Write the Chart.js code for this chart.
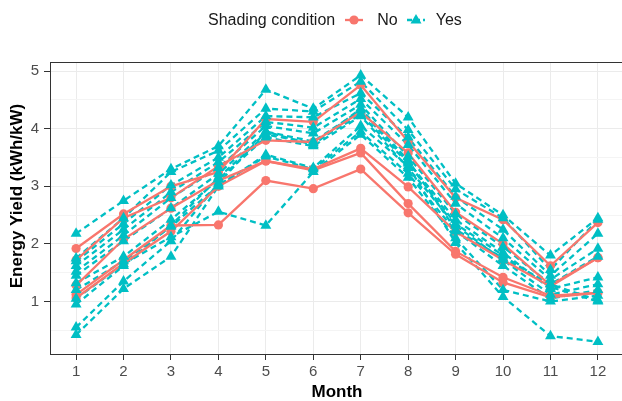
<!DOCTYPE html>
<html><head><meta charset="utf-8">
<script src="https://cdn.jsdelivr.net/npm/chart.js@4/dist/chart.umd.min.js"></script>
<style>
html,body{margin:0;padding:0;background:#fff;overflow:hidden;width:622px;height:401px;}
#wrap{position:relative;width:632px;height:401px;}
#legend{position:absolute;top:10px;left:208px;height:20px;display:flex;align-items:center;font-family:"Liberation Sans",Arial,sans-serif;font-size:16px;color:#1a1a1a;white-space:nowrap;}
#legend svg{display:block;}
</style></head>
<body><div id="wrap"><canvas id="c" width="632" height="401"></canvas><div id="legend"></div></div>
<script>
// ---- data ----
const months = [1,2,3,4,5,6,7,8,9,10,11,12];
const xTickLabels = ['1','2','3','4','5','6','7','8','9','10','11','12'];
const yTickLabels = ['1','2','3','4','5'];
const legendTitle = 'Shading condition';
const groupNames = ['No','Yes'];
const xTitle = 'Month';
const yTitle = 'Energy Yield (kWh/kW)';

// Shading condition: No
const noA = [1.92, 2.52, 3.00, 3.25, 4.17, 4.12, 4.76, 3.78, 2.80, 2.42, 1.62, 2.37];
const noB = [1.72, 2.45, 2.80, 3.35, 3.80, 3.77, 4.29, 3.58, 2.55, 2.00, 1.28, 1.76];
const noC = [1.28, 2.08, 2.62, 3.10, 3.44, 3.30, 3.66, 2.99, 2.21, 1.72, 1.26, 1.76];
const noD = [1.12, 1.72, 2.32, 2.33, 3.10, 2.96, 3.30, 2.54, 1.82, 1.33, 1.07, 1.15];
const noE = [1.06, 1.66, 2.22, 3.00, 3.44, 3.28, 3.58, 2.70, 1.87, 1.42, 1.10, 1.15];

// Shading condition: Yes
const yesA = [2.18, 2.75, 3.30, 3.70, 4.68, 4.35, 4.93, 4.20, 3.05, 2.50, 1.80, 2.45];
const yesB = [1.75, 2.45, 3.25, 3.62, 4.35, 4.30, 4.82, 3.98, 2.95, 2.45, 1.55, 2.42];
const yesC = [1.70, 2.35, 3.02, 3.50, 4.22, 4.20, 4.62, 3.85, 2.82, 2.25, 1.45, 2.18];
const yesD = [1.62, 2.25, 2.90, 3.42, 4.12, 4.02, 4.52, 3.72, 2.70, 2.10, 1.38, 1.92];
const yesE = [1.52, 2.15, 2.80, 3.32, 4.05, 3.92, 4.42, 3.52, 2.52, 1.95, 1.30, 1.78];
const yesF = [1.45, 2.05, 2.62, 3.22, 3.95, 3.78, 4.32, 3.42, 2.42, 1.85, 1.22, 1.42];
const yesG = [1.32, 1.78, 2.42, 3.12, 3.85, 3.70, 4.22, 3.32, 2.32, 1.72, 1.12, 1.30];
const yesH = [1.20, 1.70, 2.30, 3.02, 3.52, 3.30, 3.95, 3.22, 2.22, 1.62, 1.05, 1.20];
const yesI = [1.05, 1.65, 2.12, 2.56, 2.32, 3.25, 3.90, 3.15, 2.10, 1.20, 1.00, 1.10];
const yesJ = [0.95, 1.62, 2.32, 3.15, 3.90, 3.75, 4.25, 3.40, 2.35, 1.80, 1.25, 1.00];
const yesK = [0.55, 1.35, 2.05, 3.05, 3.95, 3.72, 4.35, 3.45, 2.25, 1.75, 1.30, 1.02];
const yesL = [0.42, 1.22, 1.78, 3.00, 3.55, 3.32, 4.05, 3.35, 2.02, 1.08, 0.40, 0.30];

const noSeries = [noA, noB, noC, noD, noE];
const yesSeries = [yesA, yesB, yesC, yesD, yesE, yesF, yesG, yesH, yesI, yesJ, yesK, yesL];

// ---- styling ----
const RED = '#F8766D', TEAL = '#00BFC4';
const FONT = "'Liberation Sans', Arial, Helvetica, sans-serif";
const toPts = s => s.map((v,i) => ({x: months[i], y: v}));

const datasets = [];
yesSeries.forEach(s => datasets.push({data: toPts(s), borderColor: TEAL, borderWidth: 2.3, borderDash: [6,4],
  pointRadius: 0, fill: false, tension: 0, order: 3}));
noSeries.forEach(s => datasets.push({data: toPts(s), borderColor: RED, borderWidth: 2.3,
  pointRadius: 0, fill: false, tension: 0, order: 2}));
noSeries.forEach(s => datasets.push({data: toPts(s), showLine: false, pointStyle: 'circle', pointRadius: 4.6,
  pointBackgroundColor: RED, pointBorderWidth: 0, pointBorderColor: RED, order: 1}));
yesSeries.forEach(s => datasets.push({data: toPts(s), showLine: false, pointStyle: 'triangle', pointRadius: 6.3,
  pointBackgroundColor: TEAL, pointBorderWidth: 0, pointBorderColor: TEAL, order: 0}));

const frame = {
  id: 'frame',
  afterDraw(chart) {
    const {ctx, chartArea: a} = chart;
    ctx.save();
    ctx.strokeStyle = '#333333'; ctx.lineWidth = 1;
    ctx.strokeRect(Math.round(a.left) + 0.5, Math.round(a.top) + 0.5,
      Math.round(a.right - a.left) - 1, Math.round(a.bottom - a.top) - 1);
    ctx.translate(17, 196); ctx.rotate(-Math.PI / 2);
    ctx.font = 'bold 17px ' + FONT;
    ctx.fillStyle = '#000'; ctx.textAlign = 'center'; ctx.textBaseline = 'middle';
    ctx.fillText(yTitle, 0, 0);
    ctx.restore();
  }
};

new Chart(document.getElementById('c'), {
  type: 'line',
  data: {datasets},
  options: {
    responsive: false, animation: false, devicePixelRatio: 1,
    layout: {padding: {top: 62, right: 8, left: 0, bottom: 0}},
    plugins: {legend: {display: false}, tooltip: {enabled: false}},
    scales: {
      x: {
        type: 'linear', min: 0.45, max: 12.55,
        afterBuildTicks: ax => { ax.ticks = months.map(v => ({value: v})); },
        afterFit: ax => { ax.height = 46; },
        ticks: {callback: (v) => xTickLabels[months.indexOf(v)] ?? '', color: '#4d4d4d',
          font: {family: FONT, size: 15}, padding: 3, maxRotation: 0, autoSkip: false},
        grid: {color: '#ebebeb', lineWidth: 1, tickLength: 5, tickColor: '#333333'},
        border: {display: false},
        title: {display: true, text: xTitle, color: '#000', font: {family: FONT, size: 17, weight: 'bold', lineHeight: 1}, padding: {top: 0, bottom: 0}}
      },
      y: {
        type: 'linear', min: 0.07, max: 5.16,
        afterBuildTicks: ax => { const t = []; for (let v = 0.5; v <= 5.001; v += 0.5) t.push({value: Math.round(v*10)/10}); ax.ticks = t; },
        afterFit: ax => { ax.width = 50; },
        ticks: {callback: (v) => Number.isInteger(v) ? yTickLabels[v - 1] : '', color: '#4d4d4d',
          font: {family: FONT, size: 15}, padding: 5, autoSkip: false},
        grid: {
          color: c => Number.isInteger(c.tick.value) ? '#ebebeb' : '#f4f4f4',
          lineWidth: 1, tickLength: 6,
          tickColor: c => Number.isInteger(c.tick.value) ? '#333333' : 'rgba(0,0,0,0)'
        },
        border: {display: false}
      }
    }
  },
  plugins: [frame]
});

// ---- legend (HTML text) ----
const lg = document.getElementById('legend');
const tSpan = document.createElement('span'); tSpan.textContent = legendTitle; lg.appendChild(tSpan);
function key(color, dashed, shape) {
  const ns = 'http://www.w3.org/2000/svg';
  const svg = document.createElementNS(ns, 'svg');
  svg.setAttribute('width', '18'); svg.setAttribute('height', '14');
  const ln = document.createElementNS(ns, 'line');
  ln.setAttribute('x1', '0'); ln.setAttribute('x2', '18'); ln.setAttribute('y1', '7'); ln.setAttribute('y2', '7');
  ln.setAttribute('stroke', color); ln.setAttribute('stroke-width', '2.3');
  if (dashed) ln.setAttribute('stroke-dasharray', '5,3');
  svg.appendChild(ln);
  let m;
  if (shape === 'circle') {
    m = document.createElementNS(ns, 'circle');
    m.setAttribute('cx', '9'); m.setAttribute('cy', '7'); m.setAttribute('r', '4.6');
  } else {
    m = document.createElementNS(ns, 'polygon');
    m.setAttribute('points', '9,1 14.5,10.5 3.5,10.5');
  }
  m.setAttribute('fill', color); svg.appendChild(m);
  return svg;
}
const k1 = key(RED, false, 'circle'); k1.style.marginLeft = '10px'; lg.appendChild(k1);
const n1 = document.createElement('span'); n1.textContent = groupNames[0]; n1.style.marginLeft = '14px'; lg.appendChild(n1);
const k2 = key(TEAL, true, 'triangle'); k2.style.marginLeft = '9px'; lg.appendChild(k2);
const n2 = document.createElement('span'); n2.textContent = groupNames[1]; n2.style.marginLeft = '11px'; lg.appendChild(n2);
</script>
</body></html>
